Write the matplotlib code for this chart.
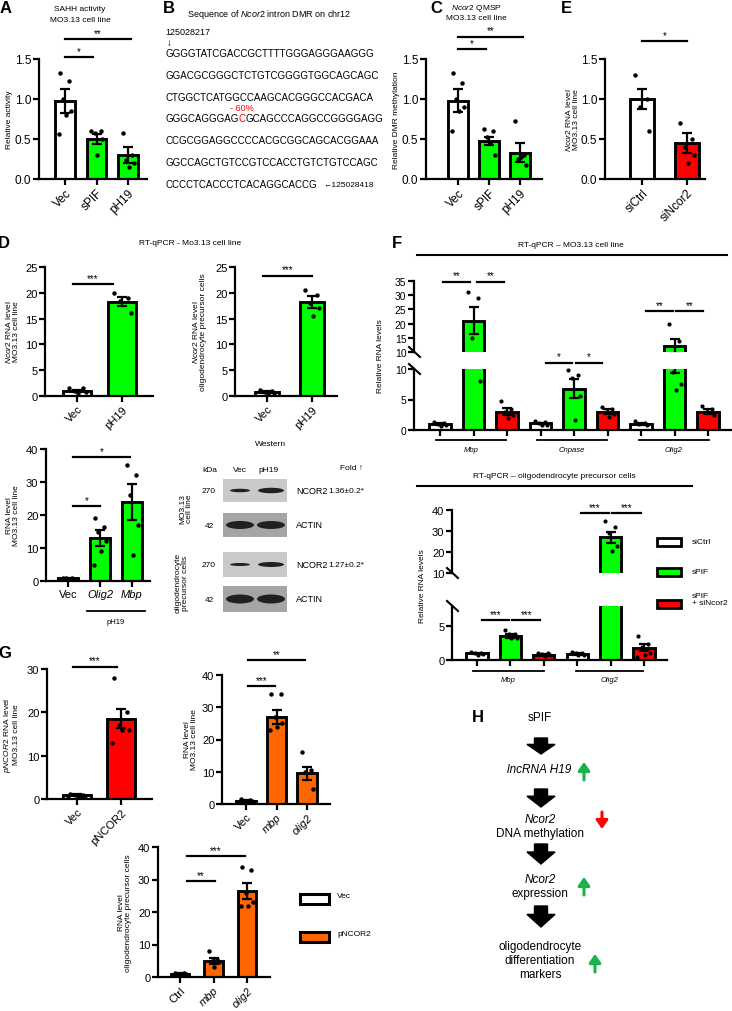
import numpy as np
import matplotlib
matplotlib.use('Agg')
import matplotlib.pyplot as plt
from matplotlib.patches import Rectangle, Ellipse, FancyArrow
from matplotlib.ticker import FormatStrFormatter

plt.rcParams['font.family'] = ['Liberation Sans', 'DejaVu Sans']
plt.rcParams['mathtext.fontset'] = 'custom'
plt.rcParams['mathtext.rm'] = 'Liberation Sans'
plt.rcParams['mathtext.it'] = 'Liberation Sans:italic'

WHITE, GREEN, RED, ORANGE = 'white', '#00ff00', '#ff0000', '#ff6600'

# ---- data ----
A_labels = ['Vec', 'sPIF', 'pH19']
A_mean = [0.98, 0.50, 0.30]
A_sem = [0.15, 0.06, 0.10]
A_pts = [[1.33, 1.22, 1.0, 0.85, 0.80, 0.56], [0.60, 0.60, 0.57, 0.50, 0.30], [0.57, 0.30, 0.24, 0.20, 0.15]]

C_mean = [0.98, 0.48, 0.33]
C_sem = [0.14, 0.05, 0.12]
C_pts = [[1.32, 1.20, 1.0, 0.90, 0.85, 0.60], [0.62, 0.60, 0.52, 0.30, 0.45], [0.72, 0.30, 0.25, 0.18, 0.28]]

E_labels = ['siCtrl', 'siNcor2']
E_mean = [1.0, 0.45]
E_sem = [0.13, 0.12]
E_pts = [[1.3, 1.0, 0.9, 0.6], [0.7, 0.5, 0.4, 0.3, 0.2]]

D1_labels = ['Vec', 'pH19']
D1_mean = [1.0, 18.3]
D1_sem = [0.2, 0.9]
D1_pts = [[1.5, 1.5, 1.0, 0.8, 0.5], [20.0, 19.0, 18.5, 16.0]]

D2_mean = [0.8, 18.2]
D2_sem = [0.2, 1.2]
D2_pts = [[1.2, 1.0, 0.8, 0.5, 0.4], [20.5, 19.5, 18.0, 17.0, 15.5]]

D3_labels = ['Vec', 'Olig2', 'Mbp']
D3_mean = [0.8, 13.0, 24.0]
D3_sem = [0.2, 2.5, 5.5]
D3_pts = [[1.0, 0.9, 0.8, 0.7, 0.6, 0.5], [19.0, 16.5, 15.0, 12.0, 9.0, 5.0], [35.0, 32.0, 26.0, 17.0, 8.0]]

F1_groups = ['Mbp', 'Cnpase', 'Olig2']
F1_mean = [[1.0, 21.0, 3.0], [1.1, 6.8, 3.0], [1.0, 12.0, 3.0]]
F1_sem = [[0.15, 4.8, 0.6], [0.1, 1.5, 0.4], [0.1, 2.6, 0.4]]
F1_pts = [[[1.3, 1.2, 1.0, 0.8, 0.7], [31, 29, 15, 8], [4.8, 3.5, 3.0, 2.5, 2.0]],
          [[1.4, 1.3, 1.1, 0.9, 0.8], [9.8, 9.0, 8.5, 5.5, 1.6], [3.8, 3.5, 3.0, 2.6, 2.2]],
          [[1.4, 1.2, 1.0, 0.9], [20, 14, 9.5, 7.6, 6.6], [4.0, 3.5, 3.0, 2.5]]]

F2_groups = ['Mbp', 'Olig2']
F2_mean = [[1.0, 3.5, 0.8], [0.9, 27.0, 1.8]]
F2_sem = [[0.1, 0.3, 0.1], [0.1, 2.5, 0.5]]
F2_pts = [[[1.2, 1.1, 1.0, 0.9, 0.8], [4.4, 3.9, 3.8, 3.3, 3.2], [1.1, 1.0, 0.9, 0.7, 0.6]],
          [[1.2, 1.1, 1.0, 0.8, 0.7], [35, 32, 29, 23, 20.5], [3.6, 2.3, 2.0, 1.0, 0.8, 0.5]]]
F_legend = ['siCtrl', 'sPIF', 'sPIF\n+ siNcor2']

G1_labels = ['Vec', 'pNCOR2']
G1_mean = [1.0, 18.5]
G1_sem = [0.1, 2.2]
G1_pts = [[1.2, 1.0, 0.9, 0.8, 0.7, 0.6, 0.5], [28, 20, 17, 16, 16, 13]]

G2_labels = ['Vec', 'mbp', 'olig2']
G2_mean = [1.0, 27.0, 9.5]
G2_sem = [0.15, 2.3, 2.0]
G2_pts = [[1.4, 1.2, 1.0, 0.9, 0.8, 0.7], [34, 34, 27, 25, 24, 23], [16, 10.5, 10, 4.6]]

G3_labels = ['Ctrl', 'mbp', 'olig2']
G3_mean = [1.0, 5.0, 26.5]
G3_sem = [0.1, 1.0, 2.5]
G3_pts = [[1.3, 1.2, 1.0, 0.9, 0.8], [8, 5.5, 5, 4.5, 3], [34, 33, 26, 23, 22, 22]]

SEQ = ['GGGGTATCGACCGCTTTTGGGAGGGAAGGG',
       'GGACGCGGGCTCTGTCGGGGTGGCAGCAGC',
       'CTGGCTCATGGCCAAGCACGGGCCACGACA',
       'GGGCAGGGAGCGCAGCCCAGGCCGGGGAGG',
       'CCGCGGAGGCCCCACGCGGCAGCACGGAAA',
       'GGCCAGCTGTCCGTCCACCTGTCTGTCCAGC',
       'CCCCTCACCCTCACAGGCACCG']

# ---- layout helpers (pixel coordinates) ----
W, H = 732, 1012
fig = plt.figure(figsize=(W / 100, H / 100), dpi=100)
ov = fig.add_axes([0, 0, 1, 1], zorder=10)
ov.set_xlim(0, W)
ov.set_ylim(H, 0)
ov.axis('off')

LW = 1.6
JIT = [-0.17, 0.13, -0.05, 0.19, 0.03, -0.2, 0.09]


def make_ax(x0, x1, ybot, ytop, vbot, vtop, p0, p1, n):
    ax = fig.add_axes([x0 / W, 1 - ybot / H, (x1 - x0) / W, (ybot - ytop) / H])
    s = (p1 - p0) / (n - 1)
    ax.set_xlim((x0 - p0) / s, (x1 - p0) / s)
    ax.set_ylim(vbot, vtop)
    ax.patch.set_alpha(0)
    for k in ['top', 'right']:
        ax.spines[k].set_visible(False)
    for k in ['left', 'bottom']:
        ax.spines[k].set_linewidth(LW)
    ax.tick_params(width=LW, length=4, pad=1.5, labelsize=8)
    return ax


def bars(ax, xs, means, sems, pts, colors, width, ms=3.2):
    lo, hi = ax.get_ylim()
    for x, m, e, p, c in zip(xs, means, sems, pts, colors):
        ax.bar(x, m, width, color=c, edgecolor='k', linewidth=LW * 1.3, zorder=2)
        ax.errorbar(x, m, yerr=e, color='k', lw=LW, capsize=3.5, capthick=LW, zorder=3)
        p = np.array(p, dtype=float)
        off = np.array(JIT[:len(p)]) * width / 0.63
        keep = (p >= lo) & (p <= hi)
        ax.plot(x + off[keep], p[keep], 'o', color='k', ms=ms, zorder=4, mew=0, clip_on=False)


def sig(ax, x1, x2, y, txt, fs=7):
    ax.plot([x1, x2], [y, y], color='k', lw=LW, clip_on=False)
    ax.annotate(txt, xy=((x1 + x2) / 2, y), xytext=(0, 1), textcoords='offset points',
                ha='center', va='bottom', fontsize=fs, annotation_clip=False)


def rot_labels(ax, labels, fs=8, italic=()):
    ax.set_xticks(range(len(labels)))
    ax.set_xticklabels(labels, rotation=45, ha='right', rotation_mode='anchor', fontsize=fs)
    for i in italic:
        ax.get_xticklabels()[i].set_style('italic')


def t(x, y, s, fs=6, **kw):
    kw.setdefault('ha', 'center')
    kw.setdefault('va', 'center')
    return ov.text(x, y, s, fontsize=fs, **kw)


def letter(x, y, s):
    t(x, y, s, fs=12, weight='bold')


# ---- A ----
axA = make_ax(39, 147, 180, 60, 0, 1.5, 65, 128, 3)
bars(axA, range(3), A_mean, A_sem, A_pts, [WHITE, GREEN, GREEN], 0.63)
axA.set_yticks([0, 0.5, 1.0, 1.5])
axA.yaxis.set_major_formatter(FormatStrFormatter('%.1f'))
axA.tick_params(labelsize=8.5)
rot_labels(axA, A_labels, 8.5)
sig(axA, 0, 0.9, 1.52, '*')
sig(axA, 0, 2.1, 1.75, '**')
letter(6, 8, 'A')
t(80, 9, 'SAHH activity')
t(80, 20, 'MO3.13 cell line')
t(10, 120, 'Relative activity', rotation=90)

# ---- B ----
letter(169, 8, 'B')
t(187, 14, r'Sequence of $\it{Ncor2}$ intron DMR on chr12', fs=6.5, ha='left')
t(165, 32, '125028217', fs=6.5, ha='left')
t(167, 43, '\u2193', fs=7, ha='left')
seq_y = [54, 76, 98, 119, 141, 163, 185]
fig.canvas.draw()
rend = fig.canvas.get_renderer()
for i, (line, y) in enumerate(zip(SEQ, seq_y)):
    if i == 3:
        a = t(165, y, line[:10], fs=7, ha='left')
        wpx = a.get_window_extent(rend).width
        b = t(165 + wpx, y, line[10], fs=7, ha='left', color=RED)
        wpx2 = b.get_window_extent(rend).width
        t(165 + wpx + wpx2, y, line[11:], fs=7, ha='left')
        t(165 + wpx + wpx2 / 2, y - 11, '- 60%', fs=6.5, color=RED)
    else:
        t(165, y, line, fs=7, ha='left')
t(323, 185, '\u2190125028418', fs=6, ha='left')

# ---- C ----
axC = make_ax(426, 542, 180, 60, 0, 1.5, 458, 520, 3)
bars(axC, range(3), C_mean, C_sem, C_pts, [WHITE, GREEN, GREEN], 0.63)
axC.set_yticks([0, 0.5, 1.0, 1.5])
axC.yaxis.set_major_formatter(FormatStrFormatter('%.1f'))
axC.tick_params(labelsize=8.5)
rot_labels(axC, A_labels, 8.5)
sig(axC, 0, 0.9, 1.62, '*')
sig(axC, 0, 2.1, 1.78, '**')
letter(436, 8, 'C')
t(476, 8, r'$\it{Ncor2}$ QMSP')
t(476, 18, 'MO3.13 cell line')
t(396, 120, 'Relative DMR methylation', rotation=90)

# ---- E ----
axE = make_ax(605, 705, 180, 60, 0, 1.5, 642, 687, 2)
bars(axE, range(2), E_mean, E_sem, E_pts, [WHITE, RED], 0.55)
axE.set_yticks([0, 0.5, 1.0, 1.5])
axE.yaxis.set_major_formatter(FormatStrFormatter('%.1f'))
axE.tick_params(labelsize=8.5)
rot_labels(axE, E_labels, 8.5)
sig(axE, 0, 1, 1.72, '*')
letter(566, 8, 'E')
t(572, 120, '$\\it{Ncor2}$ RNA level\nMO3.13 cell line', rotation=90, linespacing=1.0)

# ---- D ----
letter(4, 243, 'D')
t(190, 243, 'RT-qPCR - Mo3.13 cell line')
axD1 = make_ax(45, 153, 397, 268, 0, 25, 77, 122, 2)
bars(axD1, range(2), D1_mean, D1_sem, D1_pts, [WHITE, GREEN], 0.63)
axD1.set_yticks([0, 5, 10, 15, 20, 25])
rot_labels(axD1, D1_labels)
sig(axD1, -0.1, 0.8, 21.7, '***')
t(12, 332, '$\\it{Ncor2}$ RNA level\nMO3.13 cell line', rotation=90, linespacing=1.0)

axD2 = make_ax(235, 337, 397, 268, 0, 25, 267, 312, 2)
bars(axD2, range(2), D2_mean, D2_sem, D2_pts, [WHITE, GREEN], 0.55)
axD2.set_yticks([0, 5, 10, 15, 20, 25])
rot_labels(axD2, D1_labels)
sig(axD2, -0.1, 1.0, 23.3, '***')
t(199, 332, '$\\it{Ncor2}$ RNA level\noligodendrocyte precursor cells', rotation=90, linespacing=1.0)

axD3 = make_ax(46, 150, 582, 450, 0, 40, 68, 132, 3)
bars(axD3, range(3), D3_mean, D3_sem, D3_pts, [WHITE, GREEN, GREEN], 0.63)
axD3.set_yticks([0, 10, 20, 30, 40])
axD3.set_xticks(range(3))
axD3.set_xticklabels(D3_labels, fontsize=8)
for lab in axD3.get_xticklabels()[1:]:
    lab.set_style('italic')
sig(axD3, 0.15, 1.0, 22.7, '*')
sig(axD3, 0.15, 1.95, 37.5, '*')
ov.plot([87, 145], [612, 612], color='k', lw=1.3)
t(116, 622, 'pH19', fs=5.5)
t(13, 516, 'RNA level\nMO3.13 cell line', rotation=90, linespacing=1.0)

# Western blot
t(271, 445, 'Western')
t(210, 470, 'kDa')
t(240, 470, 'Vec')
t(268, 470, 'pH19')
t(352, 468, 'Fold \u2191')
blots = [(480, 503, 'NCOR2', '270', '#c9c9c9', [(240, 3.5, 20), (271, 5.5, 26)], '1.36\u00b10.2*'),
         (514, 538, 'ACTIN', '42', '#a5a5a5', [(240, 8, 28), (271, 8, 28)], None),
         (553, 578, 'NCOR2', '270', '#c9c9c9', [(240, 3, 20), (271, 5, 26)], '1.27\u00b10.2*'),
         (587, 613, 'ACTIN', '42', '#a5a5a5', [(240, 9, 28), (271, 9, 28)], None)]
for y0, y1, name, kda, bg, bands, fold in blots:
    ov.add_patch(Rectangle((223, y0), 64, y1 - y0, facecolor=bg, edgecolor='none'))
    yc = (y0 + y1) / 2
    for bx, bh, bw in bands:
        ov.add_patch(Ellipse((bx, yc), bw, bh, facecolor='#202020', edgecolor='none'))
    t(209, yc, kda)
    t(296, yc, name, ha='left', fs=6.5)
    if fold:
        t(328, yc, fold, ha='left', fs=6)
t(186, 509, 'MO3.13\ncell line', rotation=90, linespacing=1.0)
t(182, 583, 'oligodendrocyte\nprecursor cells', rotation=90, linespacing=1.0)

# ---- F (top) ----
letter(397, 243, 'F')
t(571, 245, 'RT-qPCR \u2013 MO3.13 cell line')
ov.plot([417, 727], [256, 256], color='k', lw=1.5)
F_colors = [WHITE, GREEN, RED]
xsF1 = [g * 3 + c for g in range(3) for c in range(3)]
mF1 = [v for row in F1_mean for v in row]
eF1 = [v for row in F1_sem for v in row]
pF1 = [v for row in F1_pts for v in row]
cF1 = F_colors * 3
axF1lo = make_ax(414, 732, 431, 370, 0, 10, 440, 708, 9)
axF1hi = make_ax(414, 732, 353, 282, 10, 35, 440, 708, 9)
for ax in (axF1lo, axF1hi):
    bars(ax, xsF1, mF1, eF1, pF1, cF1, 0.63, ms=3)
    ax.tick_params(labelsize=7.5)
axF1lo.set_yticks([0, 5, 10])
axF1hi.set_yticks([10, 15, 20, 25, 30, 35])
axF1hi.spines['bottom'].set_visible(False)
axF1hi.set_xticks([])
axF1lo.set_xticks(xsF1)
axF1lo.set_xticklabels([])
sig(axF1hi, 0.1, 0.9, 34.7, '**')
sig(axF1hi, 1.1, 1.9, 34.7, '**')
sig(axF1lo, 3.15, 3.95, 11.0, '*')
sig(axF1lo, 4.05, 4.85, 11.0, '*')
sig(axF1hi, 6.15, 6.95, 24.3, '**')
sig(axF1hi, 7.05, 7.85, 24.3, '**')
for y in (353, 370):
    ov.plot([409, 420], [y - 5, y + 5], color='k', lw=1.5)
for name, x0, x1 in zip(F1_groups, [436, 537, 639], [506, 607, 709]):
    ov.plot([x0, x1], [441, 441], color='k', lw=1.3)
    t((x0 + x1) / 2, 450, name, fs=5.5, style='italic')
t(381, 356, 'Relative RNA levels', rotation=90)

# ---- F (bottom) ----
t(554, 476, 'RT-qPCR \u2013 oligodendrocyte precursor cells')
ov.plot([417, 692], [487, 487], color='k', lw=1.5)
xsF2 = [g * 3 + c for g in range(2) for c in range(3)]
mF2 = [v for row in F2_mean for v in row]
eF2 = [v for row in F2_sem for v in row]
pF2 = [v for row in F2_pts for v in row]
cF2 = F_colors * 2
axF2lo = make_ax(452, 667, 661, 607, 0, 8, 477, 644, 6)
axF2hi = make_ax(452, 667, 574, 511, 10, 40, 477, 644, 6)
for ax in (axF2lo, axF2hi):
    bars(ax, xsF2, mF2, eF2, pF2, cF2, 0.63, ms=3)
    ax.tick_params(labelsize=8)
axF2lo.set_yticks([0, 5])
axF2hi.set_yticks([10, 20, 30, 40])
axF2hi.spines['bottom'].set_visible(False)
axF2hi.set_xticks([])
axF2lo.set_xticks(xsF2)
axF2lo.set_xticklabels([])
sig(axF2lo, 0.15, 0.95, 5.9, '***')
sig(axF2lo, 1.05, 1.9, 5.9, '***')
sig(axF2hi, 3.1, 3.95, 38.5, '***')
sig(axF2hi, 4.05, 4.9, 38.5, '***')
for y in (574, 607):
    ov.plot([447, 458], [y - 5, y + 5], color='k', lw=1.5)
for name, x0, x1 in zip(F2_groups, [473, 576], [544, 643]):
    ov.plot([x0, x1], [672, 672], color='k', lw=1.3)
    t((x0 + x1) / 2, 681, name, fs=5.5, style='italic')
t(422, 586, 'Relative RNA levels', rotation=90)
for lab, c, y in zip(F_legend, F_colors, [543, 573, 605]):
    ov.add_patch(Rectangle((657, y - 4), 24, 8, facecolor=c, edgecolor='k', lw=2))
    t(692, y - (5 if '\n' in lab else 0), lab, fs=6, ha='left', linespacing=1.0)

# ---- G ----
letter(5, 654, 'G')
axG1 = make_ax(47, 152, 800, 670, 0, 30, 77, 121, 2)
bars(axG1, range(2), G1_mean, G1_sem, G1_pts, [WHITE, RED], 0.63)
axG1.set_yticks([0, 10, 20, 30])
rot_labels(axG1, G1_labels)
sig(axG1, -0.1, 0.9, 30.5, '***')
t(11, 735, '$\\it{pNCOR2}$ RNA level\nMO3.13 cell line', rotation=90, linespacing=1.0)

axG2 = make_ax(222, 330, 805, 676, 0, 40, 246, 307, 3)
bars(axG2, range(3), G2_mean, G2_sem, G2_pts, [WHITE, ORANGE, ORANGE], 0.65)
axG2.set_yticks([0, 10, 20, 30, 40])
rot_labels(axG2, G2_labels, italic=(1, 2))
sig(axG2, 0.05, 0.95, 36.5, '***')
sig(axG2, 0.05, 1.95, 44.6, '**')
t(191, 740, 'RNA level\nMO3.13 cell line', rotation=90, linespacing=1.0)

axG3 = make_ax(158, 270, 978, 848, 0, 40, 180, 247, 3)
bars(axG3, range(3), G3_mean, G3_sem, G3_pts, [WHITE, ORANGE, ORANGE], 0.55)
axG3.set_yticks([0, 10, 20, 30, 40])
rot_labels(axG3, G3_labels, italic=(1, 2))
sig(axG3, 0.2, 1.05, 29.5, '**')
sig(axG3, 0.2, 1.95, 37.2, '***')
t(125, 913, 'RNA level\noligodendrocyte precursor cells', rotation=90, linespacing=1.0)
for lab, c, y in zip(['Vec', 'pNCOR2'], [WHITE, ORANGE], [900, 938]):
    ov.add_patch(Rectangle((300, y - 5), 29, 10, facecolor=c, edgecolor='k', lw=2.2))
    t(337, y - 3, lab, fs=6, ha='left')

# ---- H ----
letter(478, 718, 'H')
fsH = 8.5
t(540, 718, 'sPIF', fs=fsH)
t(539, 770, 'lncRNA H19', fs=fsH, style='italic')
t(540, 820, 'Ncor2', fs=fsH, style='italic')
t(540, 834, 'DNA methylation', fs=fsH)
t(540, 880, 'Ncor2', fs=fsH, style='italic')
t(540, 894, 'expression', fs=fsH)
t(540, 947, 'oligodendrocyte', fs=fsH)
t(540, 961, 'differentiation', fs=fsH)
t(540, 975, 'markers', fs=fsH)
for y0, y1 in [(739, 755), (790, 808), (845, 865), (907, 928)]:
    ov.add_patch(FancyArrow(541, y0, 0, y1 - y0, width=13, head_width=28, head_length=(y1 - y0) * 0.6,
                            length_includes_head=True, color='k'))
for x, y0, y1, col in [(584, 781, 763, '#19b24b'), (602, 813, 830, RED),
                       (584, 896, 878, '#19b24b'), (595, 973, 955, '#19b24b')]:
    ov.annotate('', xy=(x, y1), xytext=(x, y0),
                arrowprops=dict(arrowstyle='-|>,head_width=0.35,head_length=0.5', color=col, lw=2.2,
                                shrinkA=0, shrinkB=0))

fig.savefig('out.png', dpi=100)
